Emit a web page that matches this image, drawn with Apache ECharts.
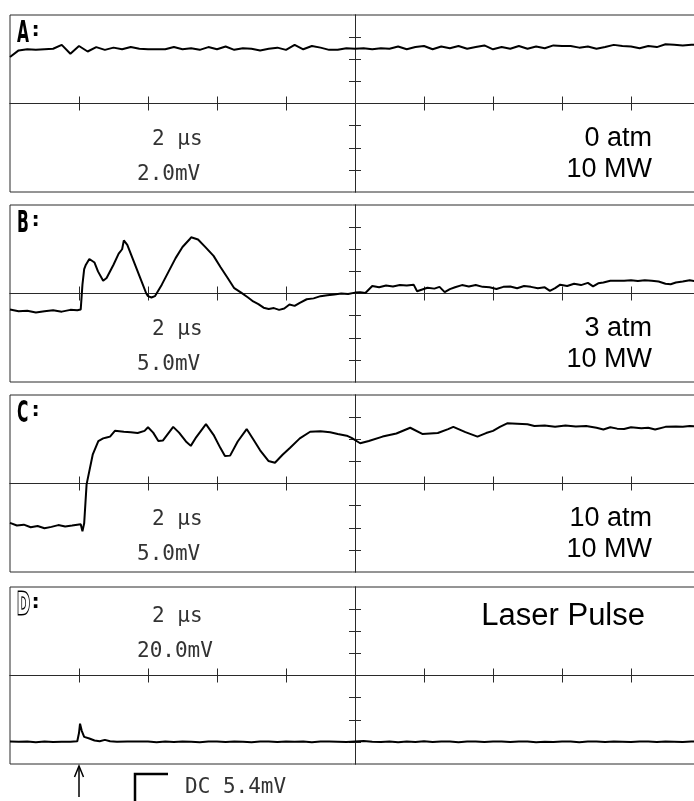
<!DOCTYPE html>
<html>
<head>
<meta charset="utf-8">
<script src="https://cdn.jsdelivr.net/npm/echarts@6/dist/echarts.min.js"></script>
<style>
html,body{margin:0;padding:0;background:#fff;}
#chart{width:694px;height:801px;}
</style>
</head>
<body>
<div id="chart"></div>
<script>
// ---- Data (time in µs relative to screen centre, amplitude in mV) ----
const panelLabels = ['A:', 'B:', 'C:', 'D:'];
const voltsPerDiv = [2.0, 5.0, 5.0, 20.0];
const timePerDiv = 2; // µs
const timeTickDivs = [-4, -3, -2, -1, 1, 2, 3, 4];
const voltTickDivs = [-3, -2, -1, 1, 2, 3];
const timebaseText = '2 μs';
const scaleTexts = ['2.0mV', '5.0mV', '5.0mV', '20.0mV'];
const conditionLine1 = ['0 atm', '3 atm', '10 atm', 'Laser Pulse'];
const conditionLine2 = ['10 MW', '10 MW', '10 MW', ''];
const footnoteText = 'DC 5.4mV';

const traceA = [
  [-10,4.2],[-9.75,4.8],[-9.5,4.9],[-9.25,4.85],[-9,4.9],[-8.75,4.95],[-8.5,5.3],[-8.25,4.5],
  [-8,5.2],[-7.75,4.7],[-7.5,5.1],[-7.25,4.85],[-7,5.05],[-6.75,4.9],[-6.5,5.1],[-6.25,4.95],
  [-6,4.9],[-5.75,4.9],[-5.5,4.9],[-5.25,5.1],[-5,4.9],[-4.75,5.0],[-4.5,4.85],[-4.25,5.1],
  [-4,4.9],[-3.75,5.15],[-3.5,4.85],[-3.25,5.0],[-3,4.95],[-2.75,4.8],[-2.5,4.95],[-2.25,5.05],
  [-2,4.85],[-1.75,5.3],[-1.5,4.9],[-1.25,5.2],[-1,5.05],[-0.75,4.85],[-0.5,4.85],[-0.25,5.0],
  [0,4.95],[0.25,5.0],[0.5,4.9],[0.75,5.0],[1,4.95],[1.25,5.15],[1.5,4.9],[1.75,5.1],
  [2,5.2],[2.25,4.9],[2.5,5.15],[2.75,5.0],[3,5.2],[3.25,4.95],[3.5,5.1],[3.75,5.25],
  [4,4.9],[4.25,5.1],[4.5,4.95],[4.75,5.2],[5,4.95],[5.25,5.15],[5.5,5.0],[5.75,5.25],
  [6,5.2],[6.25,5.2],[6.5,5.05],[6.75,5.15],[7,4.95],[7.25,5.1],[7.5,5.3],[7.75,5.2],
  [8,5.15],[8.25,5.0],[8.5,5.2],[8.75,5.1],[9,5.35],[9.25,5.3],[9.5,5.25],[9.75,5.3],[10,5.3]
];

const traceB = [
  [-10,-3.6],[-9.75,-4.0],[-9.5,-3.9],[-9.25,-4.3],[-9,-4.0],[-8.75,-3.8],[-8.5,-4.1],[-8.25,-3.7],
  [-8.05,-3.8],[-7.95,-3.6],[-7.9,2.0],[-7.85,5.5],[-7.8,6.5],[-7.7,7.8],[-7.55,7.0],[-7.45,5.0],
  [-7.3,2.9],[-7.2,3.5],[-7.0,6.5],[-6.85,9.0],[-6.75,10.0],[-6.7,12.0],[-6.6,11.0],[-6.45,8.0],
  [-6.3,5.0],[-6.15,2.0],[-6.05,0.0],[-6.0,-0.6],[-5.9,-0.9],[-5.8,-0.6],[-5.6,2.0],[-5.4,5.0],
  [-5.2,8.0],[-5.0,10.5],[-4.8,12.2],[-4.75,12.7],[-4.55,12.2],[-4.35,10.6],[-4.1,8.5],[-3.9,6.0],
  [-3.7,3.6],[-3.5,1.2],[-3.3,0.2],[-3.1,-0.9],[-2.95,-1.8],[-2.8,-2.4],[-2.65,-3.2],[-2.5,-3.5],
  [-2.35,-3.3],[-2.2,-3.7],[-2.05,-3.4],[-1.9,-2.5],[-1.75,-2.8],[-1.6,-2.1],[-1.4,-1.3],[-1.2,-1.1],
  [-1.0,-0.6],[-0.8,-0.4],[-0.6,-0.2],[-0.4,0.0],[-0.2,-0.1],[0,0.2],[0.15,0.3],[0.3,0.1],
  [0.5,1.7],[0.7,1.4],[0.9,1.8],[1.1,1.6],[1.3,1.9],[1.5,1.8],[1.7,2.0],[1.8,0.5],
  [1.95,0.9],[2.1,1.3],[2.3,1.1],[2.45,1.5],[2.6,0.3],[2.75,1.0],[2.9,1.4],[3.1,1.9],
  [3.3,1.6],[3.5,1.9],[3.7,1.5],[3.9,1.4],[4.1,1.0],[4.3,1.5],[4.5,1.6],[4.7,1.2],
  [4.9,1.7],[5.1,1.5],[5.3,1.2],[5.5,1.4],[5.65,0.6],[5.8,1.2],[5.95,2.0],[6.15,1.7],
  [6.35,2.2],[6.55,1.9],[6.75,2.4],[6.9,1.6],[7.05,2.3],[7.2,2.5],[7.4,2.9],[7.6,2.9],
  [7.8,2.9],[8.0,3.0],[8.2,2.8],[8.4,3.0],[8.6,2.9],[8.8,2.7],[9.0,2.2],[9.15,2.1],
  [9.3,2.5],[9.5,2.7],[9.7,3.0],[9.85,2.8],[10,3.0]
];

const traceC = [
  [-10,-8.9],[-9.8,-9.5],[-9.6,-9.3],[-9.4,-9.9],[-9.2,-9.6],[-9.0,-10.1],[-8.8,-9.8],[-8.6,-9.4],
  [-8.4,-9.7],[-8.2,-9.5],[-8.05,-9.3],[-7.95,-9.2],[-7.9,-10.8],[-7.85,-9.0],[-7.78,-0.2],[-7.6,6.6],
  [-7.44,9.6],[-7.3,10.2],[-7.2,10.4],[-7.1,10.6],[-6.96,11.9],[-6.7,11.7],[-6.5,11.6],[-6.3,11.4],
  [-6.1,11.9],[-6.0,12.7],[-5.85,11.5],[-5.7,9.6],[-5.57,9.7],[-5.27,12.8],[-5.1,11.5],[-4.9,9.5],
  [-4.76,8.5],[-4.6,10.5],[-4.32,13.4],[-4.1,11.0],[-3.9,8.0],[-3.77,6.2],[-3.62,6.3],[-3.4,9.5],
  [-3.14,12.3],[-2.95,10.0],[-2.75,7.5],[-2.51,5.1],[-2.32,4.7],[-2.1,6.5],[-1.88,8.1],[-1.6,10.2],
  [-1.3,11.7],[-1.0,11.8],[-0.72,11.6],[-0.5,11.2],[-0.24,10.8],[-0.1,10.3],[0.15,9.1],[0.4,9.6],
  [0.8,10.6],[1.2,11.3],[1.6,12.6],[1.95,11.2],[2.4,11.4],[2.7,12.3],[2.85,12.8],[3.2,11.6],
  [3.55,10.6],[3.8,11.4],[4.0,11.9],[4.2,12.8],[4.41,13.6],[4.7,13.5],[5.0,13.4],[5.2,13.0],
  [5.5,13.1],[5.8,12.8],[6.1,13.1],[6.4,12.9],[6.7,13.0],[7.0,12.6],[7.2,12.2],[7.4,12.7],
  [7.6,12.4],[7.8,12.3],[8.0,12.7],[8.3,12.5],[8.5,12.6],[8.7,12.2],[9.0,12.8],[9.3,12.9],
  [9.5,12.8],[9.7,13.0],[10,12.9]
];

const traceD = [
  [-10,-59.6],[-9.75,-59.8],[-9.5,-59.6],[-9.25,-60.3],[-9,-59.7],[-8.75,-60.2],[-8.5,-59.8],[-8.25,-59.9],
  [-8.05,-59.5],[-8.0,-52],[-7.97,-43.5],[-7.92,-50],[-7.85,-55.5],[-7.7,-57],[-7.55,-58.8],[-7.4,-59.5],
  [-7.25,-58.2],[-7.1,-59.4],[-6.9,-59.8],[-6.6,-59.6],[-6.3,-59.7],[-6,-59.7],[-5.75,-60.3],[-5.5,-59.7],
  [-5.25,-60.2],[-5,-59.6],[-4.75,-59.8],[-4.5,-60.3],[-4.25,-59.6],[-4,-59.7],[-3.75,-60.2],[-3.5,-59.7],
  [-3.25,-59.9],[-3,-60.3],[-2.75,-59.7],[-2.5,-59.6],[-2.25,-60.2],[-2,-59.7],[-1.75,-59.8],[-1.5,-59.6],
  [-1.25,-60.3],[-1,-59.7],[-0.75,-59.6],[-0.5,-59.8],[-0.25,-60.2],[0,-59.6],[0.25,-59.1],[0.5,-59.8],
  [0.75,-60.2],[1,-59.6],[1.25,-60.3],[1.5,-59.7],[1.75,-60.1],[2,-59.5],[2.25,-60.2],[2.5,-59.7],
  [2.75,-59.6],[3,-60.3],[3.25,-59.7],[3.5,-59.6],[3.75,-60.2],[4,-59.7],[4.25,-59.6],[4.5,-60.2],
  [4.75,-59.7],[5,-59.6],[5.25,-60.3],[5.5,-59.8],[5.75,-60.2],[6,-59.6],[6.25,-59.7],[6.5,-60.3],
  [6.75,-59.6],[7,-59.7],[7.25,-60.2],[7.5,-59.6],[7.75,-59.8],[8,-60.2],[8.25,-59.7],[8.5,-59.6],
  [8.75,-60.1],[9,-59.6],[9.25,-59.8],[9.5,-60.2],[9.75,-59.7],[10,-59.7]
];
const traces = [traceA, traceB, traceC, traceD];
const triggerTime = -8; // µs, arrow marker under panel D

// ---- Layout ----
const panelTops = [15, 205, 395, 587];
const panelH = 177;
const gridLeft = 10, gridW = 690;
const frameColor = '#2a2a2a';

const chart = echarts.init(document.getElementById('chart'), null, {renderer: 'canvas'});

const grids = [], xAxes = [], yAxes = [], series = [];
panelTops.forEach((top, k) => {
  grids.push({left: gridLeft, top: top, width: gridW, height: panelH, show: true,
    outerBoundsMode: 'none',
    borderColor: frameColor, borderWidth: 1, backgroundColor: 'transparent', containLabel: false});
  ['bottom', 'top'].forEach(pos => {
    xAxes.push({type: 'value', gridIndex: k, position: pos, min: -5 * timePerDiv, max: 5 * timePerDiv,
      interval: timePerDiv,
      axisLine: {show: true, onZero: true, lineStyle: {color: frameColor, width: 1}},
      axisTick: {show: true, length: 7, customValues: timeTickDivs.map(d => d * timePerDiv),
        lineStyle: {color: frameColor, width: 1}},
      axisLabel: {show: false}, splitLine: {show: false}});
  });
  ['left', 'right'].forEach(pos => {
    yAxes.push({type: 'value', gridIndex: k, position: pos, min: -4 * voltsPerDiv[k], max: 4 * voltsPerDiv[k],
      interval: voltsPerDiv[k],
      axisLine: {show: true, onZero: true, lineStyle: {color: frameColor, width: 1}},
      axisTick: {show: true, length: 6, customValues: voltTickDivs.map(d => d * voltsPerDiv[k]),
        lineStyle: {color: frameColor, width: 1}},
      axisLabel: {show: false}, splitLine: {show: false}});
  });
  series.push({type: 'line', xAxisIndex: 2 * k, yAxisIndex: 2 * k, data: traces[k],
    showSymbol: false, symbol: 'none', smooth: false, animation: false,
    lineStyle: {color: '#000', width: 2}, z: 5});
});

chart.setOption({
  animation: false,
  grid: grids, xAxis: xAxes, yAxis: yAxes, series: series
});

// ---- Text and annotations ----
const monoFont = '21px "DejaVu Sans Mono"';
const sansFont = '27px "Liberation Sans", Arial, sans-serif';
const graphics = [];
panelTops.forEach((top, k) => {
  const isD = k === 3;
  // panel letter
  graphics.push({type: 'text', x: 17, y: top + 3, scaleX: 0.5, z: 20,
    style: {text: panelLabels[k].charAt(0), font: 'bold 31px "DejaVu Sans"',
      fill: isD ? '#fff' : '#000', stroke: isD ? '#000' : null, lineWidth: isD ? 3 : 0,
      verticalAlign: 'top'}});
  graphics.push({type: 'text', x: 29, y: top + 4, z: 20,
    style: {text: ':', font: 'bold 22px "DejaVu Sans Mono"', fill: '#000', verticalAlign: 'top'}});
  const tb = isD ? top + 30 : top + 125;
  graphics.push({type: 'text', x: 152, y: tb, z: 20,
    style: {text: timebaseText, font: monoFont, fill: '#333', verticalAlign: 'middle'}});
  graphics.push({type: 'text', x: 137, y: tb + 35, z: 20,
    style: {text: scaleTexts[k], font: monoFont, fill: '#333', verticalAlign: 'middle'}});
  if (isD) {
    graphics.push({type: 'text', x: 645, y: top + 29, z: 20,
      style: {text: conditionLine1[k], font: '31px "Liberation Sans", Arial, sans-serif', fill: '#000',
        align: 'right', verticalAlign: 'middle'}});
  } else {
    graphics.push({type: 'text', x: 652, y: top + 124, z: 20,
      style: {text: conditionLine1[k], font: sansFont, fill: '#000', align: 'right', verticalAlign: 'middle'}});
    graphics.push({type: 'text', x: 652, y: top + 155, z: 20,
      style: {text: conditionLine2[k], font: sansFont, fill: '#000', align: 'right', verticalAlign: 'middle'}});
  }
});

const arrowX = chart.convertToPixel({xAxisIndex: 6}, triggerTime);
const dBottom = panelTops[3] + panelH;
graphics.push({type: 'polyline', z: 20, shape: {points: [[arrowX, dBottom + 3], [arrowX, 797]]},
  style: {stroke: '#000', lineWidth: 1.5}});
graphics.push({type: 'polyline', z: 20, shape: {points: [[arrowX - 4.5, dBottom + 13], [arrowX, dBottom + 2], [arrowX + 4.5, dBottom + 13]]},
  style: {stroke: '#000', lineWidth: 1.5, fill: null}});
graphics.push({type: 'polyline', z: 20, shape: {points: [[135, 801], [135, dBottom + 10], [168, dBottom + 10]]},
  style: {stroke: '#000', lineWidth: 2.5, fill: null}});
graphics.push({type: 'text', x: 185, y: dBottom + 24, z: 20,
  style: {text: footnoteText, font: monoFont, fill: '#333', verticalAlign: 'middle'}});

chart.setOption({graphic: graphics});
</script>
</body>
</html>
